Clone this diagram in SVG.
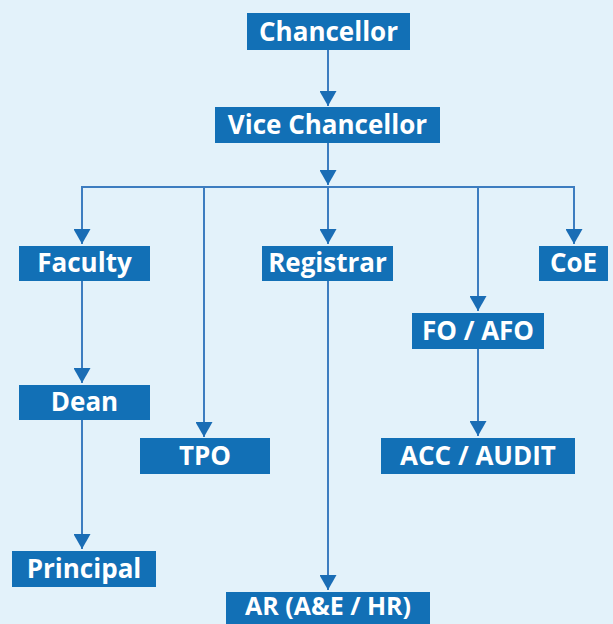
<svg xmlns="http://www.w3.org/2000/svg" width="613" height="624" viewBox="0 0 613 624">
<defs>
<style>
.box{fill:#1270b6}
.lbl{fill:#ffffff;font-family:"Open Sans","Liberation Sans",sans-serif;font-weight:bold;font-size:26px;text-anchor:middle}
.ln{stroke:#3d7dc0;stroke-width:2;fill:none}
</style>
<marker id="ah" viewBox="0 0 15 17" refX="15" refY="8.5" markerWidth="15" markerHeight="17" markerUnits="userSpaceOnUse" orient="auto">
<path d="M0,0 L15,8.5 L0,17 Z" fill="#1a6db5"/>
</marker>
</defs>
<rect x="0" y="0" width="613" height="624" fill="#e3f2fa"/>
<g id="connectors">
<line class="ln" x1="328" y1="50" x2="328" y2="106" marker-end="url(#ah)"/>
<line class="ln" x1="328" y1="143" x2="328" y2="185" marker-end="url(#ah)"/>
<line class="ln" x1="81" y1="187" x2="575" y2="187"/>
<line class="ln" x1="82" y1="187" x2="82" y2="244" marker-end="url(#ah)"/>
<line class="ln" x1="204" y1="187" x2="204" y2="437" marker-end="url(#ah)"/>
<line class="ln" x1="328" y1="187" x2="328" y2="244" marker-end="url(#ah)"/>
<line class="ln" x1="478" y1="187" x2="478" y2="311" marker-end="url(#ah)"/>
<line class="ln" x1="574" y1="187" x2="574" y2="244" marker-end="url(#ah)"/>
<line class="ln" x1="82" y1="281" x2="82" y2="383" marker-end="url(#ah)"/>
<line class="ln" x1="82" y1="420" x2="82" y2="549" marker-end="url(#ah)"/>
<line class="ln" x1="328" y1="281" x2="328" y2="590" marker-end="url(#ah)"/>
<line class="ln" x1="478" y1="349" x2="478" y2="436" marker-end="url(#ah)"/>
</g>
<g id="chancellor"><rect class="box" x="247" y="13" width="163" height="37"/><text class="lbl" x="328.5" y="41">Chancellor</text></g>
<g id="vice-chancellor"><rect class="box" x="215" y="107" width="225" height="36"/><text class="lbl" x="327.5" y="134">Vice Chancellor</text></g>
<g id="faculty"><rect class="box" x="19" y="246" width="131" height="35"/><text class="lbl" x="84.5" y="272">Faculty</text></g>
<g id="registrar"><rect class="box" x="262" y="246" width="131" height="35"/><text class="lbl" x="327.5" y="272">Registrar</text></g>
<g id="coe"><rect class="box" x="539" y="246" width="69" height="35"/><text class="lbl" x="573.5" y="272">CoE</text></g>
<g id="fo-afo"><rect class="box" x="412" y="313" width="132" height="36"/><text class="lbl" x="478" y="340">FO / AFO</text></g>
<g id="dean"><rect class="box" x="19" y="385" width="131" height="35"/><text class="lbl" x="84.5" y="411">Dean</text></g>
<g id="tpo"><rect class="box" x="140" y="438" width="130" height="36"/><text class="lbl" x="205" y="465">TPO</text></g>
<g id="acc-audit"><rect class="box" x="381" y="438" width="194" height="36"/><text class="lbl" x="478" y="465">ACC / AUDIT</text></g>
<g id="principal"><rect class="box" x="12" y="551" width="144" height="36"/><text class="lbl" x="84" y="578">Principal</text></g>
<g id="ar"><rect class="box" x="226" y="592" width="204" height="34"/><text class="lbl" x="328" y="615" style="font-size:25px">AR (A&amp;E / HR)</text></g>
</svg>
